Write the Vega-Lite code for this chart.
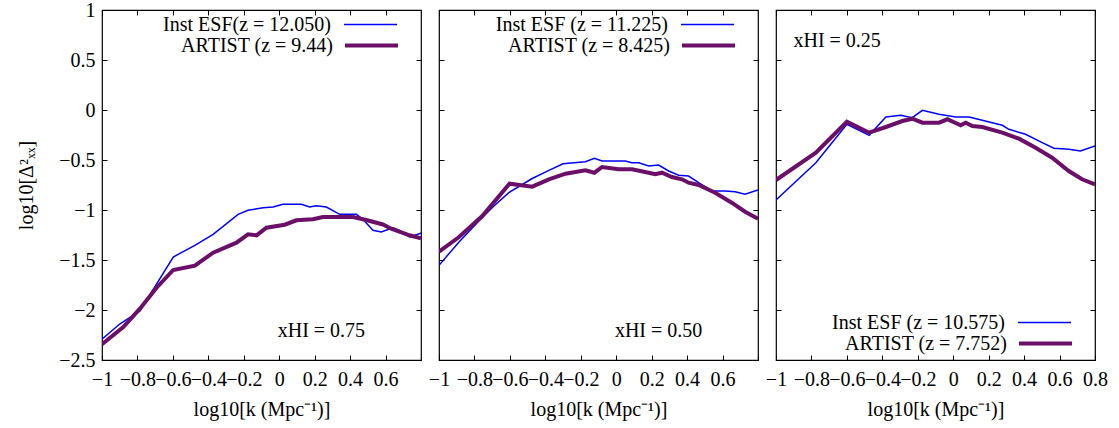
{
  "$schema": "https://vega.github.io/schema/vega-lite/v6.json",
  "background": "white",
  "padding": {"left": 16, "top": -4, "right": 5, "bottom": 5},
  "spacing": 4,
  "config": {
    "font": "Liberation Serif",
    "view": {"stroke": "black", "strokeWidth": 1.2},
    "axis": {
      "domain": false, "grid": false, "tickColor": "black", "tickSize": -5, "tickWidth": 1,
      "labelFont": "Liberation Serif", "labelFontSize": 20, "labelColor": "black",
      "titleFont": "Liberation Serif", "titleFontSize": 20, "titleFontWeight": "normal", "titleColor": "black",
      "labelFlush": false, "labelOverlap": false, "format": "~g"
    },
    "axisX": {"labelPadding": 14, "titlePadding": 10},
    "axisY": {"labelPadding": 12, "titlePadding": 22},
    "legend": {
      "title": null, "symbolType": "stroke", "symbolSize": 2809,
      "labelAlign": "right", "labelOffset": -67, "labelFont": "Liberation Serif", "labelFontSize": 20,
      "labelColor": "black", "padding": 0, "labelLimit": 400, "orient": "none"
    },
    "text": {"font": "Liberation Serif", "fontSize": 20}
  },
  "resolve": {"scale": {"color": "independent", "strokeWidth": "independent"}, "legend": {"color": "independent", "strokeWidth": "independent"}},
  "datasets": {
    "p1": [
      {"k": -1, "p": -2.293, "s": "Inst ESF(z = 12.050)"},
      {"k": -0.9, "p": -2.14, "s": "Inst ESF(z = 12.050)"},
      {"k": -0.786, "p": -2.01, "s": "Inst ESF(z = 12.050)"},
      {"k": -0.598, "p": -1.47, "s": "Inst ESF(z = 12.050)"},
      {"k": -0.476, "p": -1.353, "s": "Inst ESF(z = 12.050)"},
      {"k": -0.373, "p": -1.243, "s": "Inst ESF(z = 12.050)"},
      {"k": -0.232, "p": -1.043, "s": "Inst ESF(z = 12.050)"},
      {"k": -0.176, "p": -1.003, "s": "Inst ESF(z = 12.050)"},
      {"k": -0.091, "p": -0.977, "s": "Inst ESF(z = 12.050)"},
      {"k": -0.035, "p": -0.97, "s": "Inst ESF(z = 12.050)"},
      {"k": 0.021, "p": -0.943, "s": "Inst ESF(z = 12.050)"},
      {"k": 0.125, "p": -0.943, "s": "Inst ESF(z = 12.050)"},
      {"k": 0.172, "p": -0.97, "s": "Inst ESF(z = 12.050)"},
      {"k": 0.209, "p": -0.957, "s": "Inst ESF(z = 12.050)"},
      {"k": 0.266, "p": -0.97, "s": "Inst ESF(z = 12.050)"},
      {"k": 0.341, "p": -1.043, "s": "Inst ESF(z = 12.050)"},
      {"k": 0.435, "p": -1.043, "s": "Inst ESF(z = 12.050)"},
      {"k": 0.472, "p": -1.093, "s": "Inst ESF(z = 12.050)"},
      {"k": 0.529, "p": -1.203, "s": "Inst ESF(z = 12.050)"},
      {"k": 0.576, "p": -1.22, "s": "Inst ESF(z = 12.050)"},
      {"k": 0.641, "p": -1.177, "s": "Inst ESF(z = 12.050)"},
      {"k": 0.679, "p": -1.203, "s": "Inst ESF(z = 12.050)"},
      {"k": 0.735, "p": -1.27, "s": "Inst ESF(z = 12.050)"},
      {"k": 0.791, "p": -1.237, "s": "Inst ESF(z = 12.050)"},
      {"k": 0.8, "p": -1.23, "s": "Inst ESF(z = 12.050)"},
      {"k": -1, "p": -2.343, "s": "ARTIST (z = 9.44)"},
      {"k": -0.88, "p": -2.17, "s": "ARTIST (z = 9.44)"},
      {"k": -0.786, "p": -1.987, "s": "ARTIST (z = 9.44)"},
      {"k": -0.692, "p": -1.777, "s": "ARTIST (z = 9.44)"},
      {"k": -0.598, "p": -1.6, "s": "ARTIST (z = 9.44)"},
      {"k": -0.476, "p": -1.557, "s": "ARTIST (z = 9.44)"},
      {"k": -0.373, "p": -1.427, "s": "ARTIST (z = 9.44)"},
      {"k": -0.241, "p": -1.327, "s": "ARTIST (z = 9.44)"},
      {"k": -0.176, "p": -1.243, "s": "ARTIST (z = 9.44)"},
      {"k": -0.128, "p": -1.253, "s": "ARTIST (z = 9.44)"},
      {"k": -0.072, "p": -1.177, "s": "ARTIST (z = 9.44)"},
      {"k": 0.031, "p": -1.147, "s": "ARTIST (z = 9.44)"},
      {"k": 0.097, "p": -1.103, "s": "ARTIST (z = 9.44)"},
      {"k": 0.19, "p": -1.093, "s": "ARTIST (z = 9.44)"},
      {"k": 0.247, "p": -1.07, "s": "ARTIST (z = 9.44)"},
      {"k": 0.416, "p": -1.07, "s": "ARTIST (z = 9.44)"},
      {"k": 0.491, "p": -1.1, "s": "ARTIST (z = 9.44)"},
      {"k": 0.585, "p": -1.145, "s": "ARTIST (z = 9.44)"},
      {"k": 0.632, "p": -1.187, "s": "ARTIST (z = 9.44)"},
      {"k": 0.735, "p": -1.253, "s": "ARTIST (z = 9.44)"},
      {"k": 0.8, "p": -1.283, "s": "ARTIST (z = 9.44)"}
    ],
    "p2": [
      {"k": -1, "p": -1.553, "s": "Inst ESF (z = 11.225)"},
      {"k": -0.887, "p": -1.32, "s": "Inst ESF (z = 11.225)"},
      {"k": -0.775, "p": -1.11, "s": "Inst ESF (z = 11.225)"},
      {"k": -0.69, "p": -0.96, "s": "Inst ESF (z = 11.225)"},
      {"k": -0.606, "p": -0.827, "s": "Inst ESF (z = 11.225)"},
      {"k": -0.474, "p": -0.685, "s": "Inst ESF (z = 11.225)"},
      {"k": -0.38, "p": -0.603, "s": "Inst ESF (z = 11.225)"},
      {"k": -0.3, "p": -0.537, "s": "Inst ESF (z = 11.225)"},
      {"k": -0.174, "p": -0.517, "s": "Inst ESF (z = 11.225)"},
      {"k": -0.123, "p": -0.483, "s": "Inst ESF (z = 11.225)"},
      {"k": -0.08, "p": -0.51, "s": "Inst ESF (z = 11.225)"},
      {"k": 0.051, "p": -0.51, "s": "Inst ESF (z = 11.225)"},
      {"k": 0.089, "p": -0.527, "s": "Inst ESF (z = 11.225)"},
      {"k": 0.127, "p": -0.527, "s": "Inst ESF (z = 11.225)"},
      {"k": 0.183, "p": -0.56, "s": "Inst ESF (z = 11.225)"},
      {"k": 0.239, "p": -0.55, "s": "Inst ESF (z = 11.225)"},
      {"k": 0.296, "p": -0.61, "s": "Inst ESF (z = 11.225)"},
      {"k": 0.352, "p": -0.653, "s": "Inst ESF (z = 11.225)"},
      {"k": 0.408, "p": -0.66, "s": "Inst ESF (z = 11.225)"},
      {"k": 0.465, "p": -0.727, "s": "Inst ESF (z = 11.225)"},
      {"k": 0.54, "p": -0.81, "s": "Inst ESF (z = 11.225)"},
      {"k": 0.615, "p": -0.81, "s": "Inst ESF (z = 11.225)"},
      {"k": 0.671, "p": -0.817, "s": "Inst ESF (z = 11.225)"},
      {"k": 0.727, "p": -0.843, "s": "Inst ESF (z = 11.225)"},
      {"k": 0.8, "p": -0.8, "s": "Inst ESF (z = 11.225)"},
      {"k": -1, "p": -1.417, "s": "ARTIST (z = 8.425)"},
      {"k": -0.887, "p": -1.27, "s": "ARTIST (z = 8.425)"},
      {"k": -0.756, "p": -1.06, "s": "ARTIST (z = 8.425)"},
      {"k": -0.602, "p": -0.737, "s": "ARTIST (z = 8.425)"},
      {"k": -0.474, "p": -0.767, "s": "ARTIST (z = 8.425)"},
      {"k": -0.38, "p": -0.693, "s": "ARTIST (z = 8.425)"},
      {"k": -0.286, "p": -0.637, "s": "ARTIST (z = 8.425)"},
      {"k": -0.174, "p": -0.603, "s": "ARTIST (z = 8.425)"},
      {"k": -0.123, "p": -0.627, "s": "ARTIST (z = 8.425)"},
      {"k": -0.08, "p": -0.57, "s": "ARTIST (z = 8.425)"},
      {"k": 0.014, "p": -0.593, "s": "ARTIST (z = 8.425)"},
      {"k": 0.089, "p": -0.593, "s": "ARTIST (z = 8.425)"},
      {"k": 0.183, "p": -0.627, "s": "ARTIST (z = 8.425)"},
      {"k": 0.22, "p": -0.643, "s": "ARTIST (z = 8.425)"},
      {"k": 0.258, "p": -0.627, "s": "ARTIST (z = 8.425)"},
      {"k": 0.314, "p": -0.67, "s": "ARTIST (z = 8.425)"},
      {"k": 0.371, "p": -0.693, "s": "ARTIST (z = 8.425)"},
      {"k": 0.408, "p": -0.727, "s": "ARTIST (z = 8.425)"},
      {"k": 0.465, "p": -0.75, "s": "ARTIST (z = 8.425)"},
      {"k": 0.558, "p": -0.827, "s": "ARTIST (z = 8.425)"},
      {"k": 0.652, "p": -0.927, "s": "ARTIST (z = 8.425)"},
      {"k": 0.727, "p": -1.017, "s": "ARTIST (z = 8.425)"},
      {"k": 0.8, "p": -1.087, "s": "ARTIST (z = 8.425)"}
    ],
    "p3": [
      {"k": -1, "p": -0.9, "s": "Inst ESF (z = 10.575)"},
      {"k": -0.775, "p": -0.527, "s": "Inst ESF (z = 10.575)"},
      {"k": -0.6, "p": -0.143, "s": "Inst ESF (z = 10.575)"},
      {"k": -0.474, "p": -0.253, "s": "Inst ESF (z = 10.575)"},
      {"k": -0.38, "p": -0.07, "s": "Inst ESF (z = 10.575)"},
      {"k": -0.296, "p": -0.053, "s": "Inst ESF (z = 10.575)"},
      {"k": -0.231, "p": -0.077, "s": "Inst ESF (z = 10.575)"},
      {"k": -0.174, "p": -0.003, "s": "Inst ESF (z = 10.575)"},
      {"k": -0.08, "p": -0.043, "s": "Inst ESF (z = 10.575)"},
      {"k": 0.014, "p": -0.07, "s": "Inst ESF (z = 10.575)"},
      {"k": 0.089, "p": -0.07, "s": "Inst ESF (z = 10.575)"},
      {"k": 0.164, "p": -0.103, "s": "Inst ESF (z = 10.575)"},
      {"k": 0.22, "p": -0.127, "s": "Inst ESF (z = 10.575)"},
      {"k": 0.277, "p": -0.153, "s": "Inst ESF (z = 10.575)"},
      {"k": 0.314, "p": -0.193, "s": "Inst ESF (z = 10.575)"},
      {"k": 0.408, "p": -0.243, "s": "Inst ESF (z = 10.575)"},
      {"k": 0.502, "p": -0.327, "s": "Inst ESF (z = 10.575)"},
      {"k": 0.568, "p": -0.383, "s": "Inst ESF (z = 10.575)"},
      {"k": 0.652, "p": -0.393, "s": "Inst ESF (z = 10.575)"},
      {"k": 0.718, "p": -0.41, "s": "Inst ESF (z = 10.575)"},
      {"k": 0.8, "p": -0.36, "s": "Inst ESF (z = 10.575)"},
      {"k": -1, "p": -0.7, "s": "ARTIST (z = 7.752)"},
      {"k": -0.775, "p": -0.427, "s": "ARTIST (z = 7.752)"},
      {"k": -0.6, "p": -0.117, "s": "ARTIST (z = 7.752)"},
      {"k": -0.474, "p": -0.227, "s": "ARTIST (z = 7.752)"},
      {"k": -0.38, "p": -0.17, "s": "ARTIST (z = 7.752)"},
      {"k": -0.287, "p": -0.11, "s": "ARTIST (z = 7.752)"},
      {"k": -0.231, "p": -0.087, "s": "ARTIST (z = 7.752)"},
      {"k": -0.174, "p": -0.127, "s": "ARTIST (z = 7.752)"},
      {"k": -0.08, "p": -0.127, "s": "ARTIST (z = 7.752)"},
      {"k": -0.033, "p": -0.093, "s": "ARTIST (z = 7.752)"},
      {"k": 0.042, "p": -0.153, "s": "ARTIST (z = 7.752)"},
      {"k": 0.07, "p": -0.127, "s": "ARTIST (z = 7.752)"},
      {"k": 0.108, "p": -0.16, "s": "ARTIST (z = 7.752)"},
      {"k": 0.164, "p": -0.17, "s": "ARTIST (z = 7.752)"},
      {"k": 0.277, "p": -0.227, "s": "ARTIST (z = 7.752)"},
      {"k": 0.371, "p": -0.287, "s": "ARTIST (z = 7.752)"},
      {"k": 0.465, "p": -0.377, "s": "ARTIST (z = 7.752)"},
      {"k": 0.558, "p": -0.477, "s": "ARTIST (z = 7.752)"},
      {"k": 0.652, "p": -0.61, "s": "ARTIST (z = 7.752)"},
      {"k": 0.727, "p": -0.693, "s": "ARTIST (z = 7.752)"},
      {"k": 0.8, "p": -0.743, "s": "ARTIST (z = 7.752)"}
    ]
  },
  "hconcat": [
    {
      "width": 319, "height": 350,
      "resolve": {"axis": {"x": "independent", "y": "independent"}},
      "layer": [
        {
          "data": {"name": "p1"},
          "mark": {"type": "line", "clip": true},
          "encoding": {
            "x": {"field": "k", "type": "quantitative", "scale": {"domain": [-1, 0.8], "nice": false, "zero": false},
                  "axis": {"values": [-1, -0.8, -0.6, -0.4, -0.2, 0, 0.2, 0.4, 0.6], "title": "log10[k (Mpc⁻¹)]"}},
            "y": {"field": "p", "type": "quantitative", "scale": {"domain": [-2.5, 1], "nice": false, "zero": false},
                  "axis": {"values": [-2.5, -2, -1.5, -1, -0.5, 0, 0.5, 1], "title": "log10[Δ²ₓₓ]"}},
            "color": {"field": "s", "type": "nominal", "scale": {"domain": ["Inst ESF(z = 12.050)", "ARTIST (z = 9.44)"], "range": ["#0000ff", "#6b0f68"]},
                      "legend": {"values": ["Inst ESF(z = 12.050)"], "symbolStrokeWidth": 1.5, "legendX": 241, "legendY": -13}},
            "strokeWidth": {"field": "s", "type": "ordinal", "scale": {"domain": ["ARTIST (z = 9.44)", "Inst ESF(z = 12.050)"], "range": [4, 1.5]},
                      "legend": {"values": ["ARTIST (z = 9.44)"], "symbolStrokeColor": "#6b0f68", "legendX": 241, "legendY": 7}}
          }
        },
        {
          "data": {"values": [{"k": 0.238, "p": -2.21, "t": "xHI = 0.75"}]},
          "mark": {"type": "text", "align": "center", "baseline": "middle", "color": "black"},
          "encoding": {
            "x": {"field": "k", "type": "quantitative", "axis": {"orient": "top", "labels": false, "title": null, "values": [-1, -0.8, -0.6, -0.4, -0.2, 0, 0.2, 0.4, 0.6]}},
            "y": {"field": "p", "type": "quantitative", "axis": {"orient": "right", "labels": false, "title": null, "values": [-2.5, -2, -1.5, -1, -0.5, 0, 0.5, 1]}},
            "text": {"field": "t"}
          }
        }
      ]
    },
    {
      "width": 319, "height": 350,
      "resolve": {"axis": {"x": "independent", "y": "independent"}},
      "layer": [
        {
          "data": {"name": "p2"},
          "mark": {"type": "line", "clip": true},
          "encoding": {
            "x": {"field": "k", "type": "quantitative", "scale": {"domain": [-1, 0.8], "nice": false, "zero": false},
                  "axis": {"values": [-1, -0.8, -0.6, -0.4, -0.2, 0, 0.2, 0.4, 0.6, 0.8], "labelExpr": "datum.value > 0.7 ? '  ' : datum.label", "title": "log10[k (Mpc⁻¹)]"}},
            "y": {"field": "p", "type": "quantitative", "scale": {"domain": [-2.5, 1], "nice": false, "zero": false},
                  "axis": {"values": [-2.5, -2, -1.5, -1, -0.5, 0, 0.5, 1], "labels": false, "title": null}},
            "color": {"field": "s", "type": "nominal", "scale": {"domain": ["Inst ESF (z = 11.225)", "ARTIST (z = 8.425)"], "range": ["#0000ff", "#6b0f68"]},
                      "legend": {"values": ["Inst ESF (z = 11.225)"], "symbolStrokeWidth": 1.5, "legendX": 241, "legendY": -13}},
            "strokeWidth": {"field": "s", "type": "ordinal", "scale": {"domain": ["ARTIST (z = 8.425)", "Inst ESF (z = 11.225)"], "range": [4, 1.5]},
                      "legend": {"values": ["ARTIST (z = 8.425)"], "symbolStrokeColor": "#6b0f68", "legendX": 241, "legendY": 7}}
          }
        },
        {
          "data": {"values": [{"k": 0.239, "p": -2.21, "t": "xHI = 0.50"}]},
          "mark": {"type": "text", "align": "center", "baseline": "middle", "color": "black"},
          "encoding": {
            "x": {"field": "k", "type": "quantitative", "axis": {"orient": "top", "labels": false, "title": null, "values": [-1, -0.8, -0.6, -0.4, -0.2, 0, 0.2, 0.4, 0.6]}},
            "y": {"field": "p", "type": "quantitative", "axis": {"orient": "right", "labels": false, "title": null, "values": [-2.5, -2, -1.5, -1, -0.5, 0, 0.5, 1]}},
            "text": {"field": "t"}
          }
        }
      ]
    },
    {
      "width": 319, "height": 350,
      "resolve": {"axis": {"x": "independent", "y": "independent"}},
      "layer": [
        {
          "data": {"name": "p3"},
          "mark": {"type": "line", "clip": true},
          "encoding": {
            "x": {"field": "k", "type": "quantitative", "scale": {"domain": [-1, 0.8], "nice": false, "zero": false},
                  "axis": {"values": [-1, -0.8, -0.6, -0.4, -0.2, 0, 0.2, 0.4, 0.6, 0.8], "title": "log10[k (Mpc⁻¹)]"}},
            "y": {"field": "p", "type": "quantitative", "scale": {"domain": [-2.5, 1], "nice": false, "zero": false},
                  "axis": {"values": [-2.5, -2, -1.5, -1, -0.5, 0, 0.5, 1], "labels": false, "title": null}},
            "color": {"field": "s", "type": "nominal", "scale": {"domain": ["Inst ESF (z = 10.575)", "ARTIST (z = 7.752)"], "range": ["#0000ff", "#6b0f68"]},
                      "legend": {"values": ["Inst ESF (z = 10.575)"], "symbolStrokeWidth": 1.5, "legendX": 241, "legendY": 285}},
            "strokeWidth": {"field": "s", "type": "ordinal", "scale": {"domain": ["ARTIST (z = 7.752)", "Inst ESF (z = 10.575)"], "range": [4, 1.5]},
                      "legend": {"values": ["ARTIST (z = 7.752)"], "symbolStrokeColor": "#6b0f68", "legendX": 241, "legendY": 305}}
          }
        },
        {
          "data": {"values": [{"k": -0.655, "p": 0.69, "t": "xHI = 0.25"}]},
          "mark": {"type": "text", "align": "center", "baseline": "middle", "color": "black"},
          "encoding": {
            "x": {"field": "k", "type": "quantitative", "axis": {"orient": "top", "labels": false, "title": null, "values": [-1, -0.8, -0.6, -0.4, -0.2, 0, 0.2, 0.4, 0.6, 0.8]}},
            "y": {"field": "p", "type": "quantitative", "axis": {"orient": "right", "labels": false, "title": null, "values": [-2.5, -2, -1.5, -1, -0.5, 0, 0.5, 1]}},
            "text": {"field": "t"}
          }
        }
      ]
    }
  ]
}
